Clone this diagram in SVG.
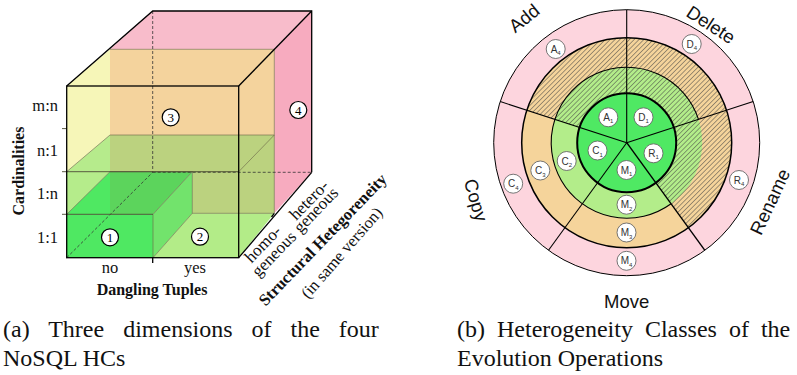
<svg xmlns="http://www.w3.org/2000/svg" width="797" height="375" viewBox="0 0 797 375">
<defs>
<pattern id="hatch" width="3.4" height="3.4" patternUnits="userSpaceOnUse" patternTransform="rotate(45)">
<line x1="0" y1="0" x2="0" y2="3.4" stroke="#444" stroke-width="1"/>
</pattern>
<style>
.ser{font-family:"Liberation Serif","Times New Roman",serif;fill:#111}
.lbl{font-size:16.5px}
.bold{font-weight:bold}
.sans{font-family:"Liberation Sans",Arial,sans-serif;fill:#111;font-size:18.5px;text-anchor:middle}
.edge{stroke:#000;stroke-width:1.3;fill:none}
.dash{stroke:#333;stroke-width:0.8;stroke-dasharray:3 2;fill:none}
.inner{stroke:#6e6a48;stroke-width:0.8;fill:none;stroke-opacity:0.8}
.num circle{fill:#fff;stroke:#000;stroke-width:1.2}
.num text{font-family:"Liberation Serif","Times New Roman",serif;font-size:13px;text-anchor:middle;fill:#000}
.badge circle{fill:#fff;stroke:#666;stroke-width:0.9}
.badge text{font-family:"Liberation Sans",Arial,sans-serif;font-size:10px;fill:#333;text-anchor:middle}
.badge tspan{font-size:6px}
.cap{font-family:"Liberation Serif","Times New Roman",serif;font-size:24px;fill:#111}
.ring{stroke:#000;fill:none}
</style>
</defs>

<!-- ===== (a) cube ===== -->
<g id="cube">
  <g id="faces">
    <polygon points="110,49.3 152.7,11 311.7,11 274.3,49.3" fill="#f8bccb"/>
    <polygon points="274.3,49.3 311.7,11 311.7,172.3 274.3,213.3" fill="#f7abbf"/>
    <polygon points="66.7,86 110,49.3 110,135 66.7,171.7" fill="#f6f6b8"/>
    <polygon points="110,49.3 274.3,49.3 274.3,135 110,135" fill="#f4d39d"/>
    <polygon points="66.7,171.7 110,135 110,171.7" fill="#b6eb8c"/>
    <polygon points="110,135 274.3,135 274.3,213.3 192.3,213.3 192.3,171.7 110,171.7" fill="#bbd27f"/>
    <polygon points="66.7,171.7 110,171.7 66.7,214.3" fill="#b5ec8b"/>
    <polygon points="66.7,214.3 153,214.3 153,257.7 66.7,257.7" fill="#4fe862"/>
    <polygon points="66.7,214.3 110,171.7 110,214.3" fill="#4fe862"/>
    <polygon points="110,171.7 192.3,171.7 153,214.3 110,214.3" fill="#5cd45c"/>
    <polygon points="153,214.3 192.3,171.7 192.3,213.3 153,257.7" fill="#72e36c"/>
    <polygon points="153,257.7 192.3,213.3 274.3,213.3 238.7,257.7" fill="#b3ec88"/>
  </g>
  <g id="inner-edges" class="inner">
    <polyline points="110,49.3 274.3,49.3 274.3,213.3"/>
    <line x1="110" y1="135" x2="274.3" y2="135"/>
    <line x1="66.7" y1="171.7" x2="110" y2="135"/>
    <line x1="238.7" y1="171.7" x2="274.3" y2="135"/>
    <line x1="66.7" y1="214.3" x2="110" y2="171.7"/>
    <line x1="110" y1="171.7" x2="192.3" y2="171.7"/>
    <line x1="153" y1="214.3" x2="192.3" y2="171.7"/>
    <line x1="192.3" y1="171.7" x2="192.3" y2="213.3"/>
    <line x1="153" y1="257.7" x2="192.3" y2="213.3"/>
    <line x1="192.3" y1="213.3" x2="274.3" y2="213.3"/>
    <line x1="153" y1="214.3" x2="153" y2="257.7"/>
  </g>
  <g id="hidden-edges" class="dash">
    <line x1="152.7" y1="11" x2="152.7" y2="172.3"/>
    <line x1="152.7" y1="172.3" x2="311.7" y2="172.3"/>
    <line x1="66.7" y1="257.7" x2="152.7" y2="172.3"/>
  </g>
  <g id="level-lines" stroke="#4a4a30" stroke-width="0.9">
    <line x1="62" y1="171.7" x2="238.7" y2="171.7"/>
    <line x1="62" y1="214.3" x2="153" y2="214.3"/>
    <line x1="62" y1="128.6" x2="67" y2="128.6"/>
  </g>
  <g id="outer-edges" class="edge">
    <rect x="66.7" y="86" width="172" height="171.7"/>
    <polyline points="66.7,86 152.7,11 311.7,11 311.7,172.3"/>
    <line x1="238.7" y1="86" x2="311.7" y2="11"/>
    <line x1="238.7" y1="257.7" x2="311.7" y2="172.3"/>
    <line x1="152.7" y1="257.7" x2="152.7" y2="263"/>
    <line x1="274.3" y1="213.3" x2="271.5" y2="217"/>
  </g>
  <g class="num" id="hc1"><circle cx="110" cy="237.3" r="8.5"/><text x="110" y="241.8">1</text></g>
  <g class="num" id="hc2"><circle cx="200" cy="236.7" r="8.5"/><text x="200" y="241.2">2</text></g>
  <g class="num" id="hc3"><circle cx="170.7" cy="117.3" r="8.5"/><text x="170.7" y="121.8">3</text></g>
  <g class="num" id="hc4"><circle cx="298.3" cy="110" r="8.5"/><text x="298.3" y="114.5">4</text></g>
  <g id="cube-labels" class="ser lbl">
    <text x="58" y="110.5" text-anchor="end">m:n</text>
    <text x="58" y="155.5" text-anchor="end">n:1</text>
    <text x="58" y="198.5" text-anchor="end">1:n</text>
    <text x="58" y="242.5" text-anchor="end">1:1</text>
    <text class="bold" transform="translate(24,171) rotate(-90)" text-anchor="middle" font-size="16">Cardinalities</text>
    <text x="110" y="273" text-anchor="middle">no</text>
    <text x="195" y="273" text-anchor="middle">yes</text>
    <text class="bold" x="152" y="294.5" text-anchor="middle" font-size="16">Dangling Tuples</text>
    <text transform="translate(264,245) rotate(-46)" y="4" text-anchor="middle" font-size="17">homo-</text>
    <text transform="translate(275,255) rotate(-46)" y="4" text-anchor="middle" font-size="17">geneous</text>
    <text transform="translate(310,201) rotate(-46)" y="4" text-anchor="middle" font-size="17">hetero-</text>
    <text transform="translate(317,211) rotate(-46)" y="4" text-anchor="middle" font-size="17">geneous</text>
    <text class="bold" transform="translate(323,240) rotate(-46)" y="5" text-anchor="middle" font-size="16.5">Structural Hetegoreneity</text>
    <text transform="translate(342,253) rotate(-49)" y="5" text-anchor="middle" font-size="16.5">(in same version)</text>
  </g>
</g>

<!-- ===== (b) circle ===== -->
<g id="wheel">
  <g id="rings">
    <circle cx="626.7" cy="142.7" r="133" fill="#fdd5de"/>
    <circle cx="626.7" cy="142.7" r="105" fill="#f5d49b"/>
    <circle cx="626.7" cy="142.7" r="75.5" fill="#b3ed8a"/>
    <path d="M626.7,142.7 L526.84,110.25 A105,105 0 1,1 688.42,227.65 Z" fill="url(#hatch)"/>
    <circle cx="626.7" cy="142.7" r="49.5" fill="#4fe963"/>
  </g>
  <g id="dividers" stroke="#000" stroke-width="1.1">
    <line x1="626.7" y1="142.7" x2="626.7" y2="9.7"/>
    <line x1="626.7" y1="142.7" x2="753.19" y2="101.6"/>
    <line x1="626.7" y1="142.7" x2="704.88" y2="250.3" stroke-width="1.4"/>
    <line x1="626.7" y1="142.7" x2="548.52" y2="250.3"/>
    <line x1="626.7" y1="142.7" x2="500.21" y2="101.6"/>
  </g>
  <g id="ring-lines">
    <circle class="ring" cx="626.7" cy="142.7" r="133" stroke-width="1"/>
    <circle class="ring" cx="626.7" cy="142.7" r="105" stroke-width="1.5"/>
    <path class="ring" d="M671.08,203.78 A75.5,75.5 0 1,1 698.51,119.37" stroke-width="1.1"/>
    <circle class="ring" cx="626.7" cy="142.7" r="49.5" stroke-width="2"/>
  </g>
  <g id="A1" class="badge"><circle cx="608.3" cy="117.3" r="9.5"/><text x="608.3" y="120.8">A<tspan dy="2.5">1</tspan></text></g>
  <g id="D1" class="badge"><circle cx="643.5" cy="117.3" r="9.5"/><text x="643.5" y="120.8">D<tspan dy="2.5">1</tspan></text></g>
  <g id="C1" class="badge"><circle cx="597.5" cy="150.5" r="9.5"/><text x="597.5" y="154">C<tspan dy="2.5">1</tspan></text></g>
  <g id="R1" class="badge"><circle cx="653.5" cy="153.3" r="9.5"/><text x="653.5" y="156.8">R<tspan dy="2.5">1</tspan></text></g>
  <g id="M1" class="badge"><circle cx="626.5" cy="170" r="9.5"/><text x="626.5" y="173.5">M<tspan dy="2.5">1</tspan></text></g>
  <g id="C2" class="badge"><circle cx="566.7" cy="161" r="9.5"/><text x="566.7" y="164.5">C<tspan dy="2.5">2</tspan></text></g>
  <g id="M2" class="badge"><circle cx="626.5" cy="204.7" r="9.5"/><text x="626.5" y="208.2">M<tspan dy="2.5">2</tspan></text></g>
  <g id="C3" class="badge"><circle cx="540.3" cy="170.5" r="9.5"/><text x="540.3" y="174">C<tspan dy="2.5">3</tspan></text></g>
  <g id="M3" class="badge"><circle cx="626.5" cy="232.5" r="9.5"/><text x="626.5" y="236">M<tspan dy="2.5">3</tspan></text></g>
  <g id="A4" class="badge"><circle cx="555.7" cy="49" r="9.5"/><text x="555.7" y="52.5">A<tspan dy="2.5">4</tspan></text></g>
  <g id="D4" class="badge"><circle cx="691.7" cy="44" r="9.5"/><text x="691.7" y="47.5">D<tspan dy="2.5">4</tspan></text></g>
  <g id="R4" class="badge"><circle cx="739" cy="180" r="9.5"/><text x="739" y="183.5">R<tspan dy="2.5">4</tspan></text></g>
  <g id="C4" class="badge"><circle cx="513.2" cy="183.7" r="9.5"/><text x="513.2" y="187.2">C<tspan dy="2.5">4</tspan></text></g>
  <g id="M4" class="badge"><circle cx="626.5" cy="260.8" r="9.5"/><text x="626.5" y="264.3">M<tspan dy="2.5">4</tspan></text></g>
  <g id="op-labels">
    <text class="sans" transform="translate(524,18) rotate(-39)" y="6.5">Add</text>
    <text class="sans" transform="translate(711,24.5) rotate(33)" y="6.5">Delete</text>
    <text class="sans" transform="translate(770,201.7) rotate(-65)" y="6.5">Rename</text>
    <text class="sans" transform="translate(476,200) rotate(74)" y="6.5">Copy</text>
    <text class="sans" x="626.7" y="308">Move</text>
  </g>
</g>

<!-- ===== captions ===== -->
<g id="captions" class="cap">
  <text x="3" y="337" word-spacing="13">(a) Three dimensions of the four</text>
  <text x="3" y="366">NoSQL HCs</text>
  <text x="457" y="337" word-spacing="6">(b) Heterogeneity Classes of the</text>
  <text x="457" y="366">Evolution Operations</text>
</g>
</svg>
